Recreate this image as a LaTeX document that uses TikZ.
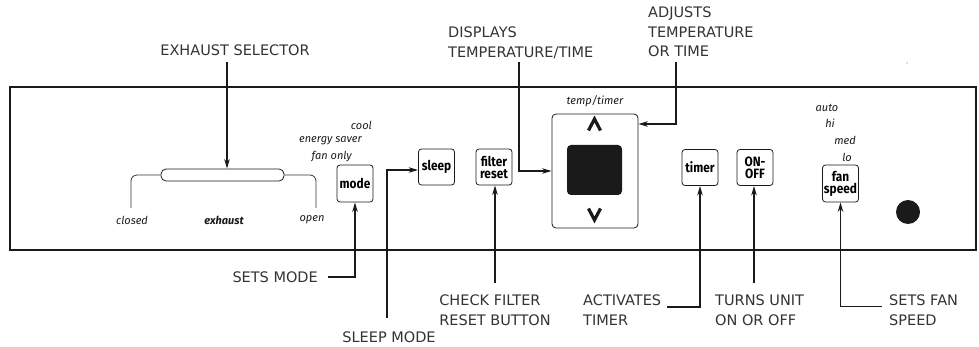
\documentclass[tikz,border=0pt]{standalone}
\usepackage{fontspec}
\usepackage{xcolor}
\newfontfamily\capfont{DejaVu Sans}
\newfontfamily\panelfont{Fira Sans}
\newfontfamily\btnfont[FakeStretch=0.88]{Fira Sans}
\usetikzlibrary{arrows.meta, calc}
\definecolor{cInk}{HTML}{1A1A1A}
\definecolor{cLine}{HTML}{333333}

\tikzset{
  caption/.style={font=\capfont\fontsize{14.5}{19.5}\selectfont, text=cLine,
    align=left, inner sep=0pt},
  button/.style={draw=cInk, rounded corners=3pt, line width=0.8pt,
    minimum width=36pt, minimum height=36pt, inner sep=0pt, align=center,
    font=\btnfont\bfseries\fontsize{13.5}{12}\selectfont},
  setting/.style={font=\panelfont\itshape\fontsize{11}{12}\selectfont,
    text=cInk, inner sep=0pt},
  lead/.style={line width=1.7pt, draw=cInk,
    -{Stealth[length=9.5pt, width=5.5pt]}},
}

\begin{document}
\begin{tikzpicture}[x=1pt, y=-1pt]
  \useasboundingbox (0,0) rectangle (979,347);
  % front panel
  \draw[line width=1.2pt, cInk] (10,87) rectangle (976,250);
  \fill[cInk] (907,63) circle (0.5pt);

  % exhaust selector
  \node[draw=cInk, line width=0.8pt, rounded corners=5pt, minimum width=123pt,
        minimum height=12pt, inner sep=0pt] (slider) at (222.5,175) {};
  \draw[cLine, line width=0.8pt, rounded corners=6pt]
        (slider.west) -| (131,208);
  \draw[cLine, line width=0.8pt, rounded corners=6pt]
        (slider.east) -| (316,208);
  \node[setting] (closed) at (132,220) {closed};
  \node[setting, font=\panelfont\bfseries\itshape\fontsize{11}{12}\selectfont]
        (exhaust) at (224,220) {exhaust};
  \node[setting] (open) at (312,220) {open};

  % mode settings
  \node[setting, anchor=east] (cool) at (372,125) {cool};
  \node[setting, anchor=east] (saver) at (362,141) {energy saver};
  \node[setting, anchor=east] (fanonly) at (352,157) {fan only};

  % buttons
  \node[button, minimum height=37pt] (mode) at (355,183.5) {mode};
  \node[button] (sleep) at (436.5,167) {sleep};
  \node[button] (filter) at (494,167) {filter\\reset};
  \node[button] (timer) at (700,167.5) {timer};
  \node[button] (onoff) at (755,167.5) {ON-\\OFF};
  \node[button, minimum height=37pt] (fan) at (840.5,183.5) {fan\\speed};

  % fan speed settings
  \node[setting] (auto) at (827,108) {auto};
  \node[setting] (hi) at (830,123) {hi};
  \node[setting] (med) at (845,140) {med};
  \node[setting] (lo) at (847,157) {lo};
  \fill[cInk] (908,212) circle (12pt);

  % temp/timer display
  \node[draw=cInk, line width=0.8pt, rounded corners=4pt, minimum width=86pt,
        minimum height=114pt, inner sep=0pt] (display) at (595,171) {};
  \node[setting] (temptimer) at (595,101) {temp/timer};
  \node[fill=cInk, rounded corners=4pt, minimum width=55pt, minimum height=50pt,
        inner sep=0pt] (screen) at (594.5,170) {};
  \coordinate (up) at (594.5,124);
  \draw[cInk, line width=3.2pt] (588.5,130.5) -- (594.5,119) -- (600.5,130.5);
  \draw[cInk, line width=3.2pt] (588.5,208.5) -- (594.5,220) -- (600.5,208.5);

  % captions above
  \node[caption] (selector) at (235,50) {EXHAUST SELECTOR};
  \node[caption, anchor=north west] (displays) at (448,27)
        {DISPLAYS\\TEMPERATURE/TIME};
  \node[caption, anchor=north west] (adjusts) at (648,7)
        {ADJUSTS\\TEMPERATURE\\OR TIME};

  % captions below
  \node[caption, anchor=east] (setsmode) at (318,277) {SETS MODE};
  \node[caption] (sleepmode) at (389,337) {SLEEP MODE};
  \node[caption, anchor=north] (checkfilter) at (495,295)
        {CHECK FILTER\\RESET BUTTON};
  \node[caption, anchor=north west] (activates) at (583,295)
        {ACTIVATES\\TIMER};
  \node[caption, anchor=north west] (turns) at (715,295)
        {TURNS UNIT\\ON OR OFF};
  \node[caption, anchor=north west] (setsfan) at (889,295)
        {SETS FAN\\SPEED};

  % leaders
  \coordinate (exTop) at (227,62);
  \coordinate (dispTop) at (519,62);
  \coordinate (adjTop) at (676,62);
  \coordinate (sleepFoot) at (387,318);
  \coordinate (filterFoot) at (495,283);
  \coordinate (onoffFoot) at (754,283);
  \draw[lead] (exTop) -- (exTop |- slider.north);
  \draw[lead] (dispTop) |- (display.west);
  \draw[lead] (adjTop) |- (up -| display.east);
  \draw[lead] ([xshift=10pt]setsmode.east) -| (mode.south);
  \draw[lead] (sleepFoot) |- ([yshift=-3pt]sleep.west);
  \draw[lead] (filterFoot) -- (filterFoot |- filter.south);
  \draw[lead] ([xshift=6pt,yshift=3pt]activates.east) -| (timer.south);
  \draw[lead] (onoffFoot) -- (onoffFoot |- onoff.south);
  \draw[lead] ([xshift=-7pt,yshift=4pt]setsfan.west) -| (fan.south);
\end{tikzpicture}
\end{document}
